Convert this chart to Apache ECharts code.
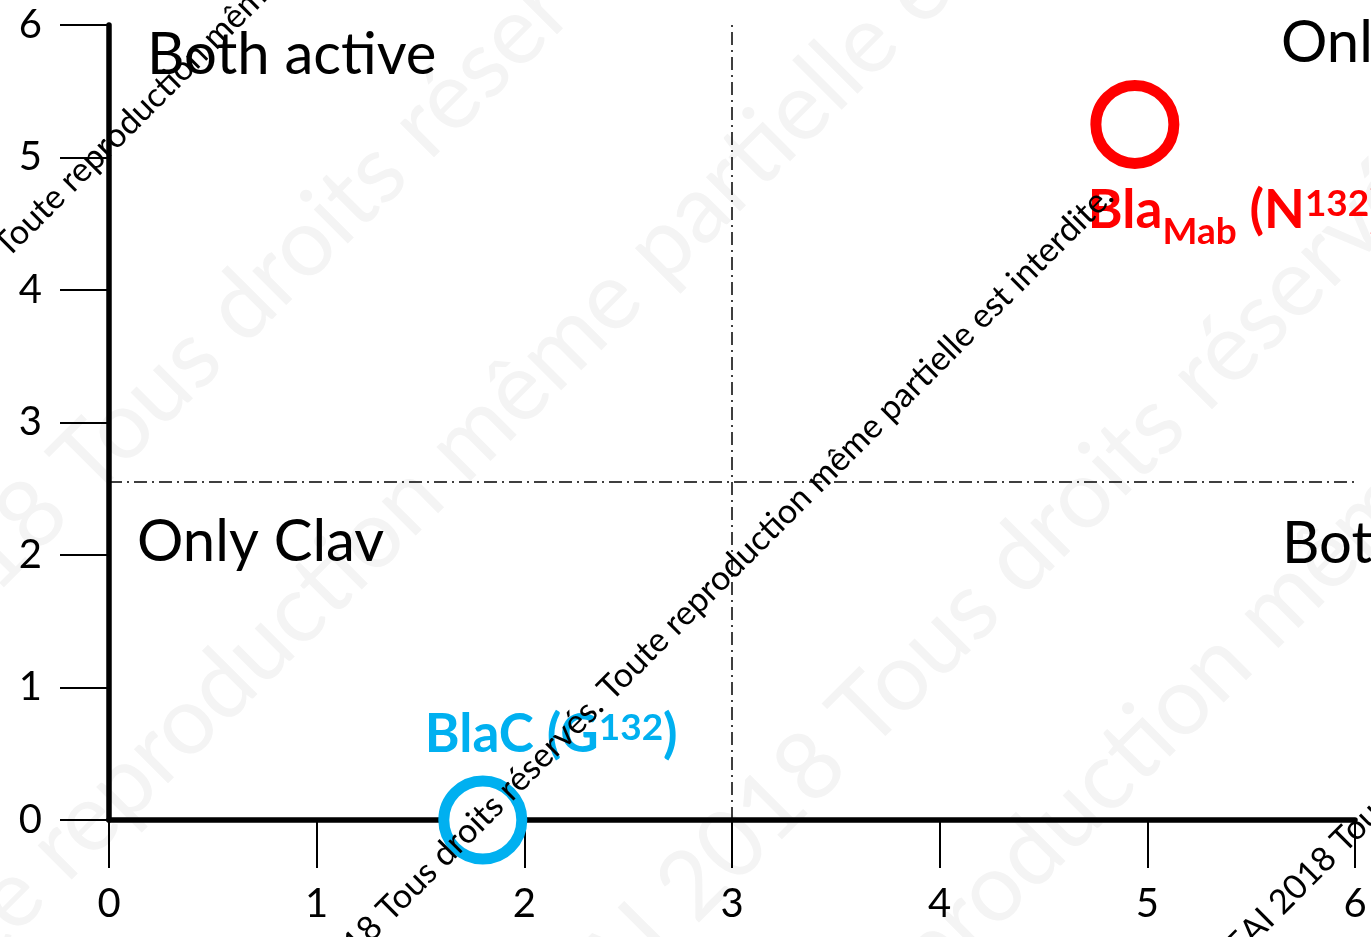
<!DOCTYPE html>
<html><head><meta charset="utf-8">
<script src="https://cdn.jsdelivr.net/npm/echarts@6/dist/echarts.min.js"></script>
<style>html,body{margin:0;padding:0;background:#fff}#c{width:1371px;height:937px}</style>
</head><body><div id="c"></div>
<script>
// ---- data ----
const xTicks = [0, 1, 2, 3, 4, 5, 6];
const yTicks = [0, 1, 2, 3, 4, 5, 6];
const pointNames = ['BlaMab (N132)', 'BlaC (G132)'];
const pointX = [4.94, 1.80];
const pointY = [5.25, 0];
const pointColors = ['#FF0000', '#00B0F0'];
const thresholdX = [3];
const thresholdY = [2.55];
const quadrantNames = ['Both active', 'Only Mab', 'Only Clav', 'Both inactive'];
const watermarkText = '© EAI 2018 Tous droits réservés. Toute reproduction même partielle est interdite.';
const watermarkLine1 = '© EAI 2018 Tous droits réservés.';
const watermarkLine2 = 'Toute reproduction même partielle est interdite.';

// ---- chart ----
const FONT = 'Lato, "Open Sans", sans-serif';
const chart = echarts.init(document.getElementById('c'), null, {renderer: 'canvas'});

chart.setOption({
  animation: false,
  backgroundColor: '#fff',
  grid: {left: 109, right: 16, top: 25, bottom: 117, containLabel: false},
  xAxis: {
    type: 'value', min: xTicks[0], max: xTicks[xTicks.length - 1], interval: 1,
    axisLine: {onZero: false, lineStyle: {color: '#000', width: 5.5}},
    axisTick: {show: true, length: 48, lineStyle: {color: '#000', width: 2}},
    axisLabel: {color: '#000', fontSize: 40, fontFamily: FONT, margin: 64,
      formatter: v => xTicks.includes(v) ? String(v) : ''},
    splitLine: {show: false}
  },
  yAxis: {
    type: 'value', min: yTicks[0], max: yTicks[yTicks.length - 1], interval: 1,
    axisLine: {onZero: false, lineStyle: {color: '#000', width: 5.5}},
    axisTick: {show: true, length: 49, lineStyle: {color: '#000', width: 2}},
    axisLabel: {color: '#000', fontSize: 40, fontFamily: FONT, margin: 67,
      formatter: v => yTicks.includes(v) ? String(v) : ''},
    splitLine: {show: false}
  },
  series: [{
    type: 'scatter',
    symbol: 'circle',
    symbolSize: 78,
    z: 3,
    data: pointX.map((x, i) => ({
      name: pointNames[i],
      value: [x, pointY[i]],
      itemStyle: {color: '#fff', borderColor: pointColors[i], borderWidth: 11, opacity: 1}
    })),
    markLine: {
      silent: true, symbol: 'none', label: {show: false},
      lineStyle: {color: '#000', width: 1.5, type: [13, 5, 2, 5]},
      data: [{xAxis: thresholdX[0]}, {yAxis: thresholdY[0]}]
    }
  }]
});

// ---- annotations ----
const S = Math.SQRT1_2;
const mctx = document.createElement('canvas').getContext('2d');
function measure(txt, fs, weight) {
  mctx.font = (weight || 'normal') + ' ' + fs + 'px Lato';
  return mctx.measureText(txt).width;
}
// text line rotated 45deg; `ref` = baseline point where `prefix` ends
function diagText(text, prefix, ref, fs, color, z) {
  const w = measure(prefix, fs);
  const sx = ref[0] - w * S, sy = ref[1] + w * S;
  const off = 0.387 * fs;
  return {
    type: 'text', x: sx - off * S, y: sy - off * S, rotation: Math.PI / 4, z: z, silent: true,
    style: {text: text, fontSize: fs, fontFamily: FONT, fill: color, align: 'left', verticalAlign: 'middle'}
  };
}

const graphics = [];
// faint large watermark (behind everything)
const faint = '#f4f4f4';
graphics.push(diagText(watermarkLine1, '© EAI 2018 ', [95, 505], 95, faint, -10));
graphics.push(diagText(watermarkLine2, 'Toute reproduction ', [470, 490], 95, faint, -10));
graphics.push(diagText(watermarkLine1, '© EAI ', [700, 930], 95, faint, -10));
graphics.push(diagText(watermarkLine2, 'Toute repr', [1000, 935], 95, faint, -10));

// quadrant names
const quadPos = [[147, 55], [1281, 43], [137, 542], [1282, 544]];
quadrantNames.forEach((t, i) => {
  graphics.push({
    type: 'text', x: quadPos[i][0], y: quadPos[i][1], z: 50, silent: true,
    style: {text: t, fontSize: 58, fontFamily: FONT, fill: '#000', align: 'left', verticalAlign: 'middle'}
  });
});

// point labels (rich text with sub/superscripts)
function richStyles(color) {
  return {
    b: {fontSize: 53, fontWeight: 'bold', fontFamily: FONT, fill: color, lineHeight: 80, verticalAlign: 'middle'},
    sub: {fontSize: 37, fontWeight: 'bold', fontFamily: FONT, fill: color, lineHeight: 38, verticalAlign: 'bottom'},
    sup: {fontSize: 37, fontWeight: 'bold', fontFamily: FONT, fill: color, verticalAlign: 'top', padding: [15, 0, 0, 0]}
  };
}
const labelRich = ['{b|Bla}{sub|Mab}{b| (N}{sup|132}{b|)}', '{b|BlaC (G}{sup|132}{b|)}'];
const labelOffset = [[-47, 46.5], [-58, -125.5]];
pointX.forEach((x, i) => {
  const p = chart.convertToPixel({gridIndex: 0}, [x, pointY[i]]);
  graphics.push({
    type: 'text', x: p[0] + labelOffset[i][0], y: p[1] + labelOffset[i][1], z: 60, silent: true,
    style: {text: labelRich[i], rich: richStyles(pointColors[i]), fill: pointColors[i],
      align: 'left', verticalAlign: 'top'}
  });
});

// dark diagonal watermark (on top)
graphics.push(diagText(watermarkText, '© EAI 2018 Tous droits réservés.', [3, 267], 34, '#000', 100));
graphics.push(diagText(watermarkText, watermarkText, [1117, 200], 34, '#000', 100));
graphics.push(diagText(watermarkText, '© EAI 2018', [1340, 862], 34, '#000', 100));

chart.setOption({graphic: {elements: graphics}});
</script>
</body></html>
